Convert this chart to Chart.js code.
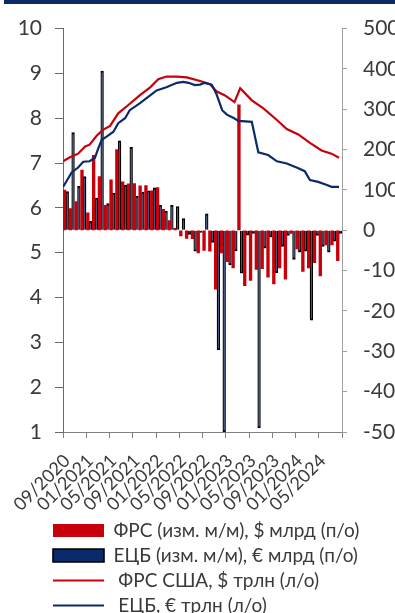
<!DOCTYPE html>
<html lang="ru">
<head>
<meta charset="utf-8">
<title>Балансы ФРС и ЕЦБ</title>
<script src="https://cdn.jsdelivr.net/npm/chart.js@4.4.1/dist/chart.umd.min.js"></script>
<style>
  html, body { margin: 0; padding: 0; background: #ffffff; overflow: hidden; }
  #wrap { position: relative; width: 395px; height: 613px; overflow: hidden; }
  #topbar { position: absolute; left: 4px; top: 0; width: 391px; height: 4px; background: #0b2a66; z-index: 1; }
  #c { position: absolute; left: 0; top: 0; }
</style>
</head>
<body>
<div id="wrap">
  <div id="topbar"></div>
  <canvas id="c" width="420" height="625"></canvas>
</div>
<script>
// Months of the bar series (monthly change), 09/2020 … 08/2024
const monthLabels = [
  '09/2020', '10/2020', '11/2020', '12/2020',
  '01/2021', '02/2021', '03/2021', '04/2021', '05/2021', '06/2021',
  '07/2021', '08/2021', '09/2021', '10/2021', '11/2021', '12/2021',
  '01/2022', '02/2022', '03/2022', '04/2022', '05/2022', '06/2022',
  '07/2022', '08/2022', '09/2022', '10/2022', '11/2022', '12/2022',
  '01/2023', '02/2023', '03/2023', '04/2023', '05/2023', '06/2023',
  '07/2023', '08/2023', '09/2023', '10/2023', '11/2023', '12/2023',
  '01/2024', '02/2024', '03/2024', '04/2024', '05/2024', '06/2024',
  '07/2024', '08/2024'
];

// Fed balance sheet, month-on-month change, $ bn (right axis)
const fedChange = [
  100, 54, 71, 149, 43, 186, 133, 62, 125, 200,
  120, 115, 116, 110, 111, 98, 106, 52, 24, 5,
  -14, -20, -21, -56, -50, -52, -146, -56, -78, -93,
  311, -137, -124, -97, -95, -116, -133, -93, -121, -8,
  -46, -102, -93, -80, -113, -36, -36, -75
];

// ECB balance sheet, month-on-month change, € bn (right axis)
const ecbChange = [
  96, 242, 109, 133, 22, 80, 395, 66, 92, 222,
  112, 206, 85, 95, 98, 105, 62, 47, 62, 59,
  29, -10, -52, -5, 41, -30, -296, -500, -86, -51,
  -106, -12, -8, -490, -44, -17, -105, -40, -13, -72,
  -54, -52, -223, -13, -40, -54, -27, -8
];

// Fed total assets, $ trn (left axis)
const fedDates = [
  '2020-09-01', '2020-10-07', '2020-11-19', '2020-12-26', '2021-01-19',
  '2021-02-23', '2021-03-28', '2021-05-04', '2021-06-16', '2021-08-07',
  '2021-10-07', '2021-12-01', '2022-01-13', '2022-02-23', '2022-04-19',
  '2022-06-10', '2022-08-19', '2022-10-10', '2022-11-13', '2022-12-28',
  '2023-02-15', '2023-03-16', '2023-05-16', '2023-07-16', '2023-09-25',
  '2023-11-16', '2024-01-16', '2024-03-16', '2024-05-16', '2024-07-07',
  '2024-08-16'
];
const fedAssets = [
  7.04, 7.13, 7.21, 7.37, 7.41,
  7.61, 7.74, 7.83, 8.11, 8.29,
  8.51, 8.69, 8.87, 8.93, 8.93,
  8.91, 8.83, 8.76, 8.60, 8.51,
  8.36, 8.67, 8.40, 8.22, 7.96,
  7.76, 7.64, 7.45, 7.28, 7.21,
  7.12
];

// ECB total assets, € trn (left axis)
const ecbDates = [
  '2020-09-01', '2020-09-20', '2020-10-16', '2020-11-19', '2020-12-16',
  '2021-01-19', '2021-02-15', '2021-03-04', '2021-03-22', '2021-04-16',
  '2021-05-22', '2021-06-16', '2021-07-22', '2021-08-16', '2021-10-07',
  '2021-12-01', '2022-01-04', '2022-02-23', '2022-04-19', '2022-05-22',
  '2022-06-19', '2022-07-22', '2022-08-19', '2022-09-13', '2022-10-19',
  '2022-11-13', '2022-12-13', '2023-01-07', '2023-02-09', '2023-03-07',
  '2023-05-16', '2023-06-19', '2023-08-10', '2023-09-25', '2023-11-16',
  '2024-01-07', '2024-02-18', '2024-03-16', '2024-04-28', '2024-06-13',
  '2024-07-07', '2024-08-16'
];
const ecbAssets = [
  6.47, 6.60, 6.79, 6.90, 7.03,
  7.04, 7.12, 7.34, 7.52, 7.59,
  7.70, 7.89, 8.00, 8.18, 8.33,
  8.51, 8.62, 8.69, 8.79, 8.81,
  8.79, 8.74, 8.75, 8.79, 8.75,
  8.54, 8.18, 8.08, 8.01, 7.94,
  7.92, 7.24, 7.18, 7.04, 6.99,
  6.90, 6.82, 6.62, 6.58, 6.51,
  6.47, 6.47
];

// Axis ticks: every fourth month, from the start of 09/2020 to the start of 09/2024
const tickMonths = [0, 4, 8, 12, 16, 20, 24, 28, 32, 36, 40, 44, 48];

// Months elapsed since 1 Sep 2020 (fractional)
function monthOffset(dateStr) {
  const [y, m, d] = dateStr.split('-').map(Number);
  const days = new Date(y, m, 0).getDate();
  return (y - 2020) * 12 + (m - 9) + (d - 1) / days;
}
const toPoints = (dates, values) => dates.map((d, i) => ({ x: monthOffset(d), y: values[i] }));
// Monthly changes sit in the middle of their month
const midMonth = (values) => values.map((v, i) => ({ x: i + 0.5, y: v }));

const RED = '#c8000a';
const NAVY = '#0b2a6b';
const INK = '#3a3a3a';
const FONT = 'Lato, "Open Sans", "DejaVu Sans", sans-serif';
const BAR_W = 2.7;

Chart.defaults.font.family = FONT;
Chart.defaults.color = INK;

// Indents the legend rows so that they line up under the plot
const legendIndent = {
  id: 'legendIndent',
  afterLayout(chart) {
    if (chart.legend) chart.legend.left = 47;
  }
};

new Chart(document.getElementById('c'), {
  data: {
    datasets: [
      {
        type: 'bar',
        label: 'ФРС (изм. м/м), $ млрд (п/о)',
        data: midMonth(fedChange),
        xAxisID: 'x',
        yAxisID: 'y2',
        stack: 'fed',
        backgroundColor: RED,
        borderWidth: 0,
        barThickness: BAR_W,
        order: 2
      },
      {
        type: 'bar',
        label: 'ЕЦБ (изм. м/м), € млрд (п/о)',
        data: midMonth(ecbChange),
        xAxisID: 'x',
        yAxisID: 'y2',
        stack: 'ecb',
        backgroundColor: NAVY,
        borderColor: '#000000',
        borderWidth: 1.4,
        barThickness: BAR_W,
        order: 3
      },
      {
        type: 'line',
        label: ' ФРС США, $ трлн (л/о)',
        data: toPoints(fedDates, fedAssets),
        xAxisID: 'x',
        yAxisID: 'y',
        borderColor: RED,
        backgroundColor: RED,
        borderWidth: 2.2,
        pointRadius: 0,
        tension: 0,
        order: 1
      },
      {
        type: 'line',
        label: ' ЕЦБ, € трлн (л/о)',
        data: toPoints(ecbDates, ecbAssets),
        xAxisID: 'x',
        yAxisID: 'y',
        borderColor: NAVY,
        backgroundColor: NAVY,
        borderWidth: 2.2,
        pointRadius: 0,
        tension: 0,
        order: 0
      }
    ]
  },
  plugins: [legendIndent],
  options: {
    responsive: false,
    devicePixelRatio: 1,
    animation: false,
    events: [],
    layout: { padding: { left: 0, top: 22, right: 0, bottom: 0 } },
    scales: {
      x: {
        type: 'linear',
        position: 'bottom',
        min: 0,
        max: 48,
        offset: false,
        afterBuildTicks: (scale) => { scale.ticks = tickMonths.map(v => ({ value: v })); },
        afterFit: (scale) => { scale.height = 83; },
        ticks: {
          autoSkip: false,
          minRotation: 45,
          maxRotation: 45,
          padding: 12,
          labelOffset: 4,
          color: INK,
          font: { size: 18 },
          callback: (v) => (v < monthLabels.length ? monthLabels[v] : '')
        },
        grid: { drawOnChartArea: false, offset: false, tickLength: 6, color: '#808080' },
        border: { color: '#808080' }
      },
      y: {
        position: 'left',
        min: 1,
        max: 10,
        afterFit: (scale) => { scale.width = 63; },
        ticks: { stepSize: 1, padding: 13, color: INK, font: { size: 21 } },
        grid: { drawOnChartArea: false, tickLength: 8, color: '#6a6a6a' },
        border: { color: '#6a6a6a' }
      },
      y2: {
        position: 'right',
        min: -500,
        max: 500,
        afterFit: (scale) => { scale.width = 78; },
        ticks: { stepSize: 100, padding: 16, color: INK, font: { size: 21 } },
        grid: { drawOnChartArea: false, tickLength: 5, color: '#a0a0a0' },
        border: { color: '#a0a0a0' }
      }
    },
    plugins: {
      tooltip: { enabled: false },
      legend: {
        position: 'bottom',
        align: 'start',
        labels: {
          color: INK,
          font: { size: 19 },
          padding: 6,
          boxHeight: 13,
          usePointStyle: true,
          pointStyleWidth: 51,
          sort: (a, b) => a.datasetIndex - b.datasetIndex,
          generateLabels: (chart) => {
            const items = Chart.defaults.plugins.legend.labels.generateLabels(chart);
            items.forEach((item) => {
              const ds = chart.data.datasets[item.datasetIndex];
              item.pointStyle = ds.type === 'line' ? 'line' : 'rect';
              if (ds.type === 'bar' && ds.borderWidth) item.lineWidth = 1.6;
            });
            return items;
          }
        }
      }
    }
  }
});
</script>
</body>
</html>
